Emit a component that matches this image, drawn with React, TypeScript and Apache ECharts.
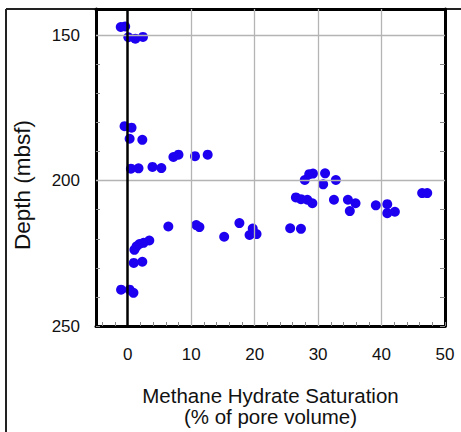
import React, { useEffect, useRef } from "react";
import * as echarts from "echarts";

// Methane hydrate saturation (% of pore volume) vs depth (mbsf)
const saturation: number[] = [
  -1.1, -0.4, 0.1, 1.2, 2.4,
  -0.5, 0.6, 0.3, 2.3,
  0.5, 1.7, 3.9, 5.3, 7.2, 8.0, 10.6, 12.6,
  27.9, 28.6, 29.2, 31.1, 30.8, 32.8, 26.5, 27.3, 28.3, 29.1, 32.5, 34.7, 35.9, 35.0, 39.1, 40.9, 40.9, 42.1, 46.4, 47.2,
  6.4, 10.8, 11.3, 15.2, 17.6, 19.7, 19.2, 20.3, 25.6, 27.3,
  1.05, 1.4, 1.85, 2.5, 3.4, 0.95, 2.3,
  -1.05, 0.3, 0.9,
];
const depth: number[] = [
  147.2, 147.0, 150.7, 151.2, 150.6,
  181.3, 181.8, 185.6, 186.0,
  195.9, 195.8, 195.3, 195.7, 191.9, 191.1, 191.6, 191.1,
  199.8, 197.8, 197.6, 197.5, 201.3, 199.8, 205.8, 206.4, 206.6, 207.8, 206.6, 206.6, 207.8, 210.5, 208.5, 208.1, 211.2, 210.7, 204.3, 204.3,
  215.8, 215.3, 216.0, 219.3, 214.6, 216.5, 218.7, 218.4, 216.4, 216.6,
  223.8, 222.6, 221.8, 221.4, 220.6, 228.3, 227.9,
  237.5, 237.5, 238.6,
];

const xLabels: number[] = [0, 10, 20, 30, 40, 50];
const xTicks: number[] = [-4, -2, 0, 2, 4, 6, 8, 10, 12, 14, 16, 18, 20, 22, 24, 26, 28, 30, 32, 34, 36, 38, 40, 42, 44, 46, 48, 50];
const xGrid: number[] = [10, 20, 30, 40];
const yLabels: number[] = [150, 200, 250];
const yTicks: number[] = [150, 160, 170, 180, 190, 200, 210, 220, 230, 240, 250];
const yGrid: number[] = [150, 200];

const FONT = "'Liberation Sans', Arial, Helvetica, sans-serif";

export default function App() {
  const ref = useRef<HTMLDivElement>(null);
  useEffect(() => {
    document.body.style.margin = "0";
    if (!ref.current) return;
    const chart = echarts.init(ref.current, null, { renderer: "svg" });
    const points = saturation.map((s, i) => [s, depth[i]]);
    const axisLine = { show: true, onZero: false, lineStyle: { color: "#000", width: 3 } };
    const tickStyle = { color: "#888", width: 1 };
    chart.setOption({
      animation: false,
      backgroundColor: "#fff",
      grid: { left: 96, top: 9, width: 349, height: 318, containLabel: false },
      xAxis: [
        {
          type: "value",
          min: -5,
          max: 50,
          position: "bottom",
          axisLine,
          axisTick: { show: true, inside: true, length: 4, customValues: xTicks, lineStyle: tickStyle },
          axisLabel: { customValues: xLabels, fontSize: 17, color: "#111", margin: 20, fontFamily: FONT },
          splitLine: { show: false },
          name: "Methane Hydrate Saturation\n(% of pore volume)",
          nameLocation: "middle",
          nameGap: 59,
          nameTextStyle: { fontSize: 20.5, color: "#111", lineHeight: 21, fontFamily: FONT },
        },
        {
          type: "value",
          min: -5,
          max: 50,
          position: "top",
          axisLine,
          axisTick: { show: false },
          axisLabel: { show: false },
          splitLine: { show: false },
        },
      ],
      yAxis: [
        {
          type: "value",
          inverse: true,
          min: 141,
          max: 250,
          position: "left",
          axisLine,
          axisTick: { show: true, inside: true, length: 4, customValues: yTicks, lineStyle: tickStyle },
          axisLabel: { customValues: yLabels, fontSize: 17, color: "#111", margin: 16, fontFamily: FONT },
          splitLine: { show: false },
        },
        {
          type: "value",
          inverse: true,
          min: 141,
          max: 250,
          position: "right",
          axisLine,
          axisTick: { show: true, inside: true, length: 5, customValues: yTicks, lineStyle: tickStyle },
          axisLabel: { show: false },
          splitLine: { show: false },
        },
      ],
      graphic: [
        { type: "line", shape: { x1: 6, y1: 9, x2: 6, y2: 432 }, style: { stroke: "#222", lineWidth: 2 } },
        { type: "line", shape: { x1: 6, y1: 9, x2: 461, y2: 9 }, style: { stroke: "#222", lineWidth: 2 } },
        {
          type: "text",
          x: 22,
          y: 185,
          rotation: Math.PI / 2,
          style: {
            text: "Depth (mbsf)",
            fontSize: 22.5,
            fill: "#111",
            align: "center",
            verticalAlign: "middle",
            fontFamily: FONT,
          },
        },
      ],
      series: [
        {
          type: "line",
          data: [],
          z: 1,
          silent: true,
          markLine: {
            symbol: "none",
            silent: true,
            label: { show: false },
            animation: false,
            data: [
              ...xGrid.map((v) => ({ xAxis: v, lineStyle: { color: "#b4b4b4", width: 1.3, type: "solid" } })),
              ...yGrid.map((v) => ({ yAxis: v, lineStyle: { color: "#b4b4b4", width: 1.3, type: "solid" } })),
              { xAxis: 0, lineStyle: { color: "#000", width: 2.5, type: "solid" } },
            ],
          },
        },
        {
          type: "scatter",
          data: points,
          z: 3,
          symbol: "circle",
          symbolSize: 10,
          itemStyle: { color: "#1e00f0", opacity: 1 },
        },
      ],
    });
    return () => chart.dispose();
  }, []);
  return <div ref={ref} style={{ width: 461, height: 432 }} />;
}
